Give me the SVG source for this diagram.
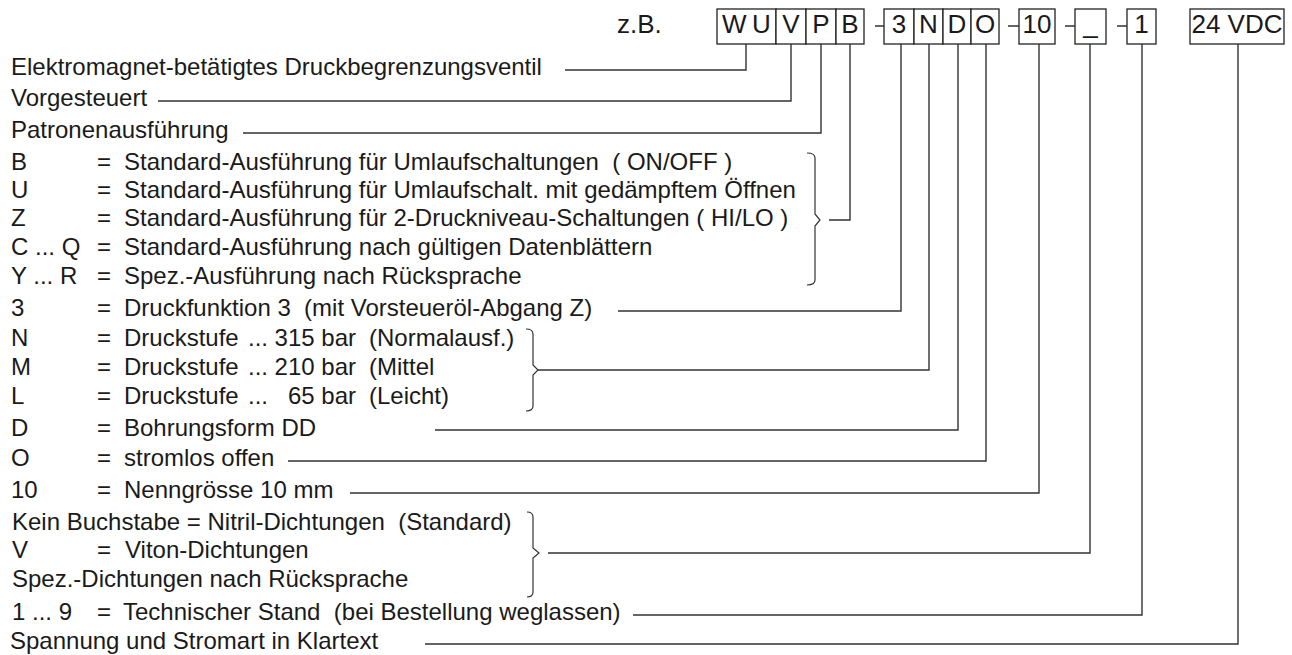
<svg xmlns="http://www.w3.org/2000/svg" width="1292" height="655" viewBox="0 0 1292 655">
<style>
text{font-family:"Liberation Sans",Arial,sans-serif;fill:#1a1a1a;white-space:pre}
.h{font-size:26px}
.r{font-size:24px}
.c{text-anchor:middle}
.e{text-anchor:end}
.box{fill:#fff;stroke:#222;stroke-width:1.3}
.ln{fill:none;stroke:#333;stroke-width:1.4}
.br{fill:none;stroke:#333;stroke-width:1.2}
</style>
<rect width="1292" height="655" fill="#fff"/>
<g id="code">
  <g id="zb"><text class="h" x="617" y="33">z.B.</text></g>
  <g id="box-WU"><rect class="box" x="717" y="9" width="59" height="35"/><text class="h" x="722" y="33">W</text><text class="h" x="752" y="33">U</text></g>
  <g id="box-V"><rect class="box" x="776" y="9" width="30" height="35"/><text class="h c" x="791" y="33">V</text></g>
  <g id="box-P"><rect class="box" x="806" y="9" width="30" height="35"/><text class="h c" x="821" y="33">P</text></g>
  <g id="box-B"><rect class="box" x="836" y="9" width="28" height="35"/><text class="h c" x="850" y="33">B</text></g>
  <g id="box-3"><rect class="box" x="884" y="9" width="30" height="35"/><text class="h c" x="899" y="33">3</text></g>
  <g id="box-N"><rect class="box" x="914" y="9" width="29" height="35"/><text class="h c" x="928.5" y="33">N</text></g>
  <g id="box-D"><rect class="box" x="943" y="9" width="28" height="35"/><text class="h c" x="957" y="33">D</text></g>
  <g id="box-O"><rect class="box" x="971" y="9" width="28" height="35"/><text class="h c" x="985" y="33">O</text></g>
  <g id="box-10"><rect class="box" x="1019" y="9" width="36" height="35"/><text class="h c" x="1037" y="33">10</text></g>
  <g id="box-seal"><rect class="box" x="1075" y="9" width="31" height="35"/><text class="h c" x="1090.5" y="33">_</text></g>
  <g id="box-1"><rect class="box" x="1127" y="9" width="29" height="35"/><text class="h c" x="1141.5" y="33">1</text></g>
  <g id="box-VDC"><rect class="box" x="1190" y="9" width="94" height="35"/><text class="h c" x="1237" y="33">24 VDC</text></g>
  <g id="dashes" class="ln">
    <path d="M875,26 H884 M1008,26 H1019 M1065,26 H1075 M1117,26 H1127"/>
  </g>
</g>
<g id="connectors" class="ln">
  <path d="M565,70 H746 V44"/>
  <path d="M158,101 H791 V44"/>
  <path d="M243,133 H821 V44"/>
  <path d="M829,220 H850 V44"/>
  <path d="M618,311 H901 V44"/>
  <path d="M538,370 H929 V44"/>
  <path d="M435,430 H958 V44"/>
  <path d="M288,461 H986 V44"/>
  <path d="M350,493 H1039 V44"/>
  <path d="M548,553 H1090 V44"/>
  <path d="M633,615 H1142 V44"/>
  <path d="M425,644 H1238 V44"/>
  <path class="br" d="M807,153 Q815,153 815,158 L815,214 L820,220 L815,226 L815,280 Q815,285 807,285"/>
  <path class="br" d="M526,329 Q533,329 533,334 L533,365 L538,370 L533,375 L533,406 Q533,411 526,411"/>
  <path class="br" d="M527,512 Q533,512 533,517 L533,548 L539,553 L533,558 L533,592 Q533,597 527,597"/>
</g>
<g id="row-WU"><text class="r" x="11" y="75">Elektromagnet-betätigtes Druckbegrenzungsventil</text></g>
<g id="row-V"><text class="r" x="11" y="106">Vorgesteuert</text></g>
<g id="row-P"><text class="r" x="11" y="138">Patronenausführung</text></g>
<g id="row-B">
  <text class="r" x="11" y="170">B</text><text class="r" x="97" y="170">=</text><text class="r" x="124" y="170">Standard-Ausführung für Umlaufschaltungen  ( ON/OFF )</text>
  <text class="r" x="11" y="198">U</text><text class="r" x="97" y="198">=</text><text class="r" x="124" y="198">Standard-Ausführung für Umlaufschalt. mit gedämpftem Öffnen</text>
  <text class="r" x="11" y="226">Z</text><text class="r" x="97" y="226">=</text><text class="r" x="124" y="226">Standard-Ausführung für 2-Druckniveau-Schaltungen ( HI/LO )</text>
  <text class="r" x="11" y="255">C ... Q</text><text class="r" x="97" y="255">=</text><text class="r" x="124" y="255">Standard-Ausführung nach gültigen Datenblättern</text>
  <text class="r" x="11" y="284">Y ... R</text><text class="r" x="97" y="284">=</text><text class="r" x="124" y="284">Spez.-Ausführung nach Rücksprache</text>
</g>
<g id="row-3"><text class="r" x="11" y="316">3</text><text class="r" x="97" y="316">=</text><text class="r" x="124" y="316">Druckfunktion 3  (mit Vorsteueröl-Abgang Z)</text></g>
<g id="row-N">
  <text class="r" x="11" y="346">N</text><text class="r" x="97" y="346">=</text><text class="r" x="124" y="346">Druckstufe</text><text class="r" x="248" y="346">...</text><text class="r e" x="356" y="346">315 bar</text><text class="r" x="369" y="346">(Normalausf.)</text>
  <text class="r" x="11" y="375">M</text><text class="r" x="97" y="375">=</text><text class="r" x="124" y="375">Druckstufe</text><text class="r" x="248" y="375">...</text><text class="r e" x="356" y="375">210 bar</text><text class="r" x="369" y="375">(Mittel</text>
  <text class="r" x="11" y="404">L</text><text class="r" x="97" y="404">=</text><text class="r" x="124" y="404">Druckstufe</text><text class="r" x="248" y="404">...</text><text class="r e" x="356" y="404">65 bar</text><text class="r" x="369" y="404">(Leicht)</text>
</g>
<g id="row-D"><text class="r" x="11" y="436">D</text><text class="r" x="97" y="436">=</text><text class="r" x="124" y="436">Bohrungsform DD</text></g>
<g id="row-O"><text class="r" x="11" y="466">O</text><text class="r" x="97" y="466">=</text><text class="r" x="124" y="466">stromlos offen</text></g>
<g id="row-10"><text class="r" x="11" y="498">10</text><text class="r" x="97" y="498">=</text><text class="r" x="124" y="498">Nenngrösse 10 mm</text></g>
<g id="row-seal">
  <text class="r" x="12" y="530">Kein Buchstabe = Nitril-Dichtungen  (Standard)</text>
  <text class="r" x="12" y="558">V</text><text class="r" x="97" y="558">=</text><text class="r" x="125" y="558">Viton-Dichtungen</text>
  <text class="r" x="12" y="587">Spez.-Dichtungen nach Rücksprache</text>
</g>
<g id="row-1"><text class="r" x="12" y="620">1 ... 9</text><text class="r" x="97" y="620">=</text><text class="r" x="123" y="620">Technischer Stand  (bei Bestellung weglassen)</text></g>
<g id="row-VDC"><text class="r" x="10" y="649">Spannung und Stromart in Klartext</text></g>
</svg>
